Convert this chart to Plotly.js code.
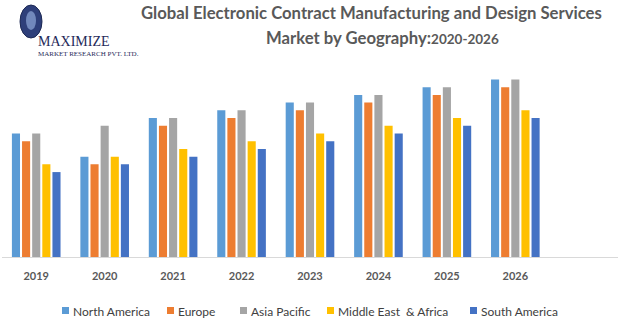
<!DOCTYPE html>
<html>
<head>
<meta charset="utf-8">
<script src="https://cdn.plot.ly/plotly-3.0.1.min.js"></script>
<style>html,body{margin:0;padding:0;background:#fff;}#chart{width:628px;height:326px;}</style>
</head>
<body>
<div id="chart"></div>
<script>
const years = ["2019","2020","2021","2022","2023","2024","2025","2026"];
const northAmerica = [16, 13, 18, 19, 20, 21, 22, 23];
const europe       = [15, 12, 17, 18, 19, 20, 21, 22];
const asiaPacific  = [16, 17, 18, 19, 20, 21, 22, 23];
const middleEastAfrica = [12, 13, 14, 15, 16, 17, 18, 19];
const southAmerica = [11, 12, 13, 14, 15, 16, 17, 18];

const seriesNames = ["North America", "Europe", "Asia Pacific", "Middle East  & Africa", "South America"];
const seriesValues = [northAmerica, europe, asiaPacific, middleEastAfrica, southAmerica];
const colors = ["#5B9BD5", "#ED7D31", "#A5A5A5", "#FFC000", "#4472C4"];

const traces = seriesNames.map((n, i) => ({
  type: "bar", name: n, x: years, y: seriesValues[i],
  marker: {color: colors[i]}, hoverinfo: "skip", showlegend: false
}));

const FONT = "Lato, 'Open Sans', sans-serif";
const PLOT_TOP = 64;
// legend (drawn as text, small square markers like the reference)
const legendSquareX = [62, 167, 240, 327, 470];
const legendAnn = [];
const legendShapes = [];
seriesNames.forEach((n, i) => {
  legendShapes.push({type: "rect", xref: "paper", yref: "paper", xsizemode: "pixel", ysizemode: "pixel",
    xanchor: 0, yanchor: 0, x0: legendSquareX[i] - 2, x1: legendSquareX[i] + 5, y0: -(307 + 7 - 257), y1: -(307 - 257),
    fillcolor: colors[i], line: {width: 0}});
  legendAnn.push({xref: "paper", yref: "paper", x: 0, y: 0, xshift: legendSquareX[i] - 2 + 9, yshift: -(311 - 257),
    xanchor: "left", yanchor: "middle", showarrow: false, text: n,
    font: {family: FONT, size: 12, color: "#404040"}});
});

const layout = {
  width: 628, height: 326,
  margin: {l: 2, r: 10, t: PLOT_TOP, b: 69},
  paper_bgcolor: "#fff", plot_bgcolor: "#fff",
  barmode: "group", bargap: 0.26, bargroupgap: 0.2,
  showlegend: false,
  xaxis: {type: "category", range: [-0.5, 8.5], showline: true, linecolor: "#D9D9D9", linewidth: 1,
    ticks: "", showgrid: false, zeroline: false, ticklabelstandoff: 9,
    tickfont: {family: FONT, size: 11, color: "#595959", weight: "bold"}},
  yaxis: {range: [0, 25], visible: false, showgrid: false, zeroline: false},
  annotations: [
    {xref: "paper", yref: "paper", x: 0.6, y: 1, yshift: 63, xanchor: "center", yanchor: "top",
     showarrow: false, align: "center",
     text: "<b>Global Electronic Contract Manufacturing and Design Services</b>",
     font: {family: FONT, size: 16.7, color: "#595959"}},
    {xref: "paper", yref: "paper", x: 0.617, y: 1, yshift: 38, xanchor: "center", yanchor: "top",
     showarrow: false, align: "center",
     text: "<b>Market by Geography:<span style='font-size:13.5px'>2020-2026</span></b>",
     font: {family: FONT, size: 16.7, color: "#595959"}},
    {xref: "paper", yref: "paper", x: 0, y: 1, xshift: 35, yshift: PLOT_TOP - 41, xanchor: "left", yanchor: "middle",
     showarrow: false, text: "MAXIMIZE", borderpad: 0,
     font: {family: "'Liberation Serif', serif", size: 14, color: "#1F2A5A"}},
    {xref: "paper", yref: "paper", x: 0, y: 1, xshift: 35, yshift: PLOT_TOP - 54, xanchor: "left", yanchor: "middle",
     showarrow: false, text: "MARKET RESEARCH PVT. LTD.", borderpad: 0,
     font: {family: "'Liberation Serif', serif", size: 7, color: "#1F2A5A"}}
  ].concat(legendAnn),
  shapes: [
    {type: "circle", xref: "paper", yref: "paper", xsizemode: "pixel", ysizemode: "pixel",
     xanchor: 0, yanchor: 1, x0: 18, x1: 40, y0: PLOT_TOP - 38, y1: PLOT_TOP - 5,
     fillcolor: "#2E3F7A", line: {color: "#1E2A55", width: 1}},
    {type: "circle", xref: "paper", yref: "paper", xsizemode: "pixel", ysizemode: "pixel",
     xanchor: 0, yanchor: 1, x0: 24, x1: 34, y0: PLOT_TOP - 30, y1: PLOT_TOP - 11,
     fillcolor: "#8FA8D8", line: {width: 0}, opacity: 0.7}
  ].concat(legendShapes)
};

Plotly.newPlot("chart", traces, layout, {displayModeBar: false, staticPlot: true});
</script>
</body>
</html>
